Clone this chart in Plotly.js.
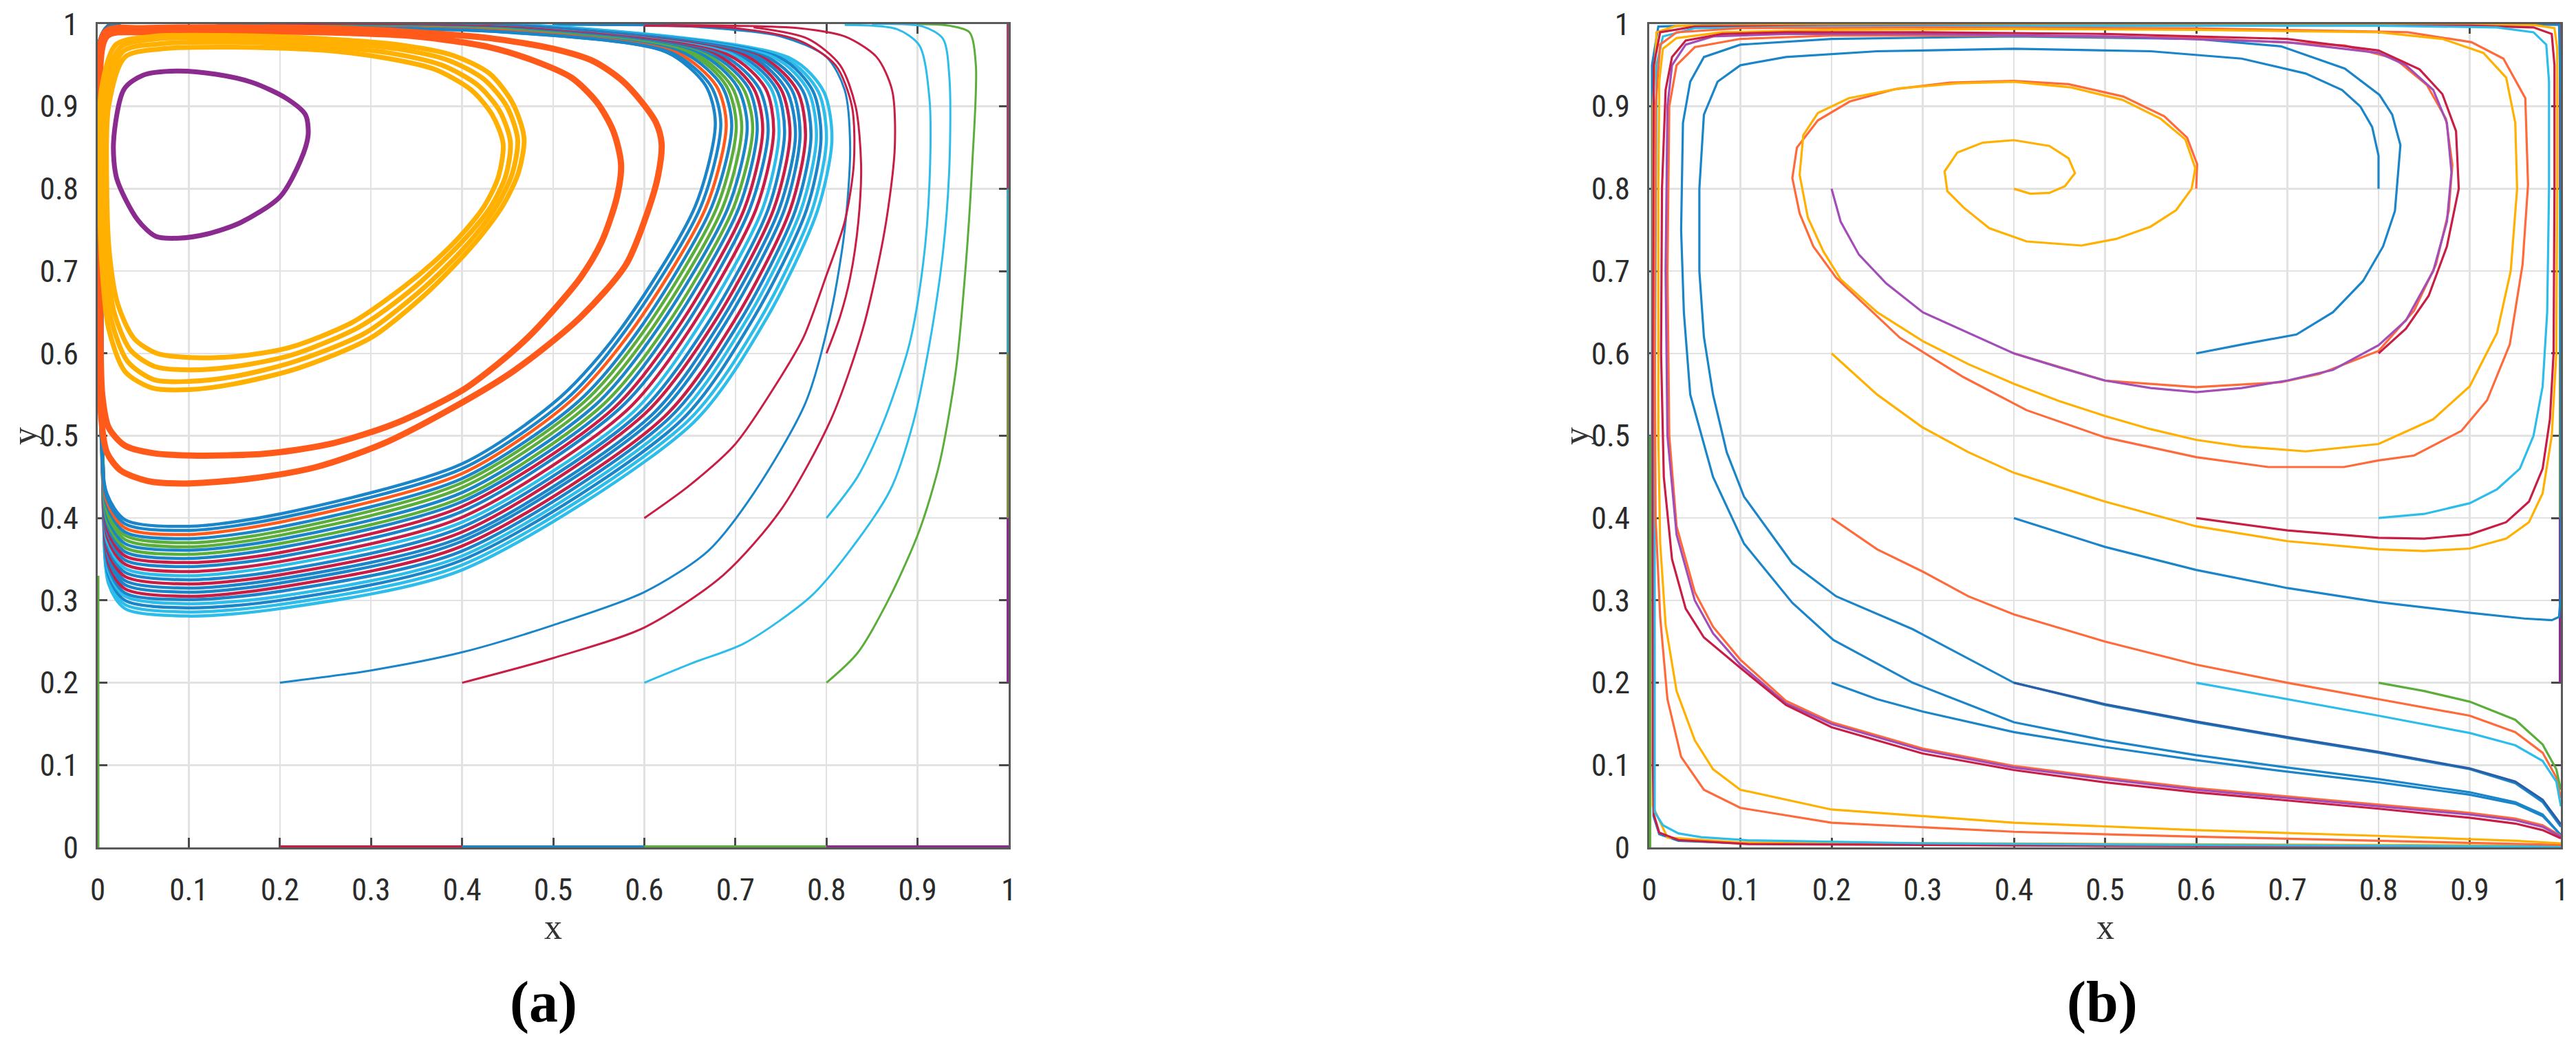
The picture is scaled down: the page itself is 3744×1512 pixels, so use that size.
<!DOCTYPE html>
<html><head><meta charset="utf-8">
<script src="https://cdn.plot.ly/plotly-3.0.1.min.js"></script>
<style>html,body{margin:0;padding:0;background:#fff;} #chart{width:3744px;height:1512px;}</style>
</head><body><div id="chart"></div>
<script>
// ---------- tick labels ----------
const tickVals = [0,0.1,0.2,0.3,0.4,0.5,0.6,0.7,0.8,0.9,1];
const tickText = ['0','0.1','0.2','0.3','0.4','0.5','0.6','0.7','0.8','0.9','1'];

// ---------- panel (a): closed orbits ----------
const a_purple_x = [0.087,0.130,0.170,0.2075,0.228,0.231,0.2226,0.200,0.157,0.12,0.089,0.064,0.044,0.021,0.0174,0.029,0.05,0.087];
const a_purple_y = [0.943,0.939,0.929,0.9095,0.89,0.865,0.834,0.790,0.759,0.745,0.740,0.742,0.762,0.812,0.857,0.921,0.938,0.943];

const a_yel1_x = [0.02,0.06,0.15,0.25,0.33,0.39,0.43,0.455,0.468,0.462,0.445,0.42,0.39,0.356,0.3,0.22,0.15,0.1,0.06,0.03,0.012,0.005,0.002,0.004,0.02];
const a_yel1_y = [0.975,0.985,0.986,0.982,0.975,0.962,0.94,0.905,0.862,0.82,0.78,0.742,0.705,0.668,0.619,0.582,0.563,0.556,0.558,0.578,0.63,0.7,0.8,0.92,0.975];
const a_yel2_x = [0.025,0.065,0.15,0.25,0.328,0.385,0.424,0.449,0.461,0.455,0.438,0.414,0.384,0.35,0.294,0.216,0.15,0.1,0.062,0.033,0.015,0.007,0.004,0.006,0.025];
const a_yel2_y = [0.972,0.982,0.983,0.978,0.97,0.956,0.933,0.9,0.86,0.818,0.779,0.743,0.707,0.672,0.625,0.59,0.572,0.566,0.568,0.59,0.64,0.71,0.8,0.915,0.972];
const a_yel3_x = [0.028,0.068,0.15,0.25,0.325,0.378,0.417,0.441,0.453,0.448,0.432,0.407,0.377,0.343,0.287,0.213,0.15,0.1,0.063,0.036,0.018,0.01,0.007,0.009,0.028];
const a_yel3_y = [0.967,0.976,0.978,0.973,0.964,0.95,0.926,0.895,0.857,0.816,0.779,0.744,0.71,0.676,0.632,0.598,0.584,0.58,0.584,0.604,0.65,0.715,0.8,0.91,0.967];
const a_yel4_x = [0.03,0.07,0.15,0.25,0.32,0.37,0.41,0.433,0.445,0.44,0.425,0.4,0.37,0.335,0.28,0.21,0.15,0.1,0.065,0.04,0.022,0.013,0.01,0.012,0.03];
const a_yel4_y = [0.96,0.97,0.972,0.968,0.958,0.945,0.92,0.89,0.855,0.815,0.78,0.745,0.712,0.68,0.638,0.607,0.596,0.595,0.6,0.618,0.66,0.72,0.8,0.9,0.96];

const a_org1_x = [0.01,0.05,0.15,0.25,0.35,0.43,0.48,0.52,0.548,0.566,0.5745,0.57,0.553,0.53,0.5,0.472,0.44,0.4,0.327,0.255,0.182,0.103,0.06,0.03,0.012,0.005,0.003,0.004,0.01];
const a_org1_y = [0.985,0.99,0.991,0.99,0.985,0.972,0.955,0.935,0.905,0.87,0.83,0.79,0.735,0.692,0.652,0.619,0.588,0.555,0.515,0.49,0.478,0.476,0.479,0.488,0.51,0.55,0.65,0.85,0.985];
const a_org2_x = [0.008,0.05,0.15,0.25,0.35,0.43,0.5,0.544,0.575,0.5975,0.613,0.619,0.615,0.604,0.58,0.53,0.457,0.385,0.3126,0.24,0.168,0.0955,0.055,0.025,0.01,0.004,0.002,0.003,0.008];
const a_org2_y = [0.99,0.995,0.996,0.995,0.99,0.983,0.97,0.955,0.932,0.905,0.88,0.855,0.815,0.773,0.708,0.644,0.579,0.531,0.49,0.462,0.448,0.442,0.445,0.458,0.48,0.52,0.6,0.8,0.99];

// dense band of orbits, k = main lines, h = lines in between (inner -> outer)
const a_k0_x = [0.01,0.2,0.45,0.624,0.667,0.678,0.656,0.573,0.508,0.4,0.2,0.1,0.03,0.01,0.004,0.003,0.01];
const a_k0_y = [0.993,0.996,0.99,0.966,0.926,0.88,0.779,0.628,0.547,0.466,0.405,0.39,0.398,0.43,0.5,0.8,0.993];
const a_h0_x = [0.01,0.2,0.453,0.63,0.673,0.684,0.662,0.58,0.515,0.4,0.2,0.1,0.03,0.01,0.004,0.003,0.01];
const a_h0_y = [0.993,0.996,0.99,0.965,0.925,0.879,0.778,0.629,0.545,0.46,0.4,0.385,0.393,0.425,0.497,0.8,0.993];
const a_k1_x = [0.01,0.2,0.455,0.636,0.679,0.69,0.668,0.587,0.521,0.4,0.2,0.1,0.03,0.01,0.004,0.003,0.01];
const a_k1_y = [0.993,0.996,0.991,0.965,0.925,0.878,0.778,0.629,0.544,0.454,0.395,0.38,0.388,0.42,0.495,0.8,0.993];
const a_h1_x = [0.01,0.2,0.457,0.643,0.685,0.696,0.674,0.595,0.528,0.4,0.2,0.1,0.03,0.01,0.004,0.003,0.01];
const a_h1_y = [0.994,0.997,0.991,0.965,0.925,0.877,0.778,0.63,0.542,0.448,0.389,0.375,0.383,0.415,0.493,0.8,0.994];
const a_k2_x = [0.01,0.2,0.459,0.649,0.69,0.701,0.68,0.602,0.534,0.4,0.2,0.1,0.03,0.01,0.004,0.003,0.01];
const a_k2_y = [0.994,0.997,0.991,0.965,0.925,0.876,0.778,0.631,0.541,0.443,0.384,0.37,0.379,0.41,0.491,0.8,0.994];
const a_h2_x = [0.01,0.2,0.462,0.655,0.696,0.707,0.686,0.609,0.541,0.4,0.2,0.1,0.03,0.011,0.005,0.004,0.01];
const a_h2_y = [0.994,0.997,0.992,0.964,0.924,0.875,0.777,0.631,0.54,0.437,0.379,0.365,0.374,0.405,0.488,0.8,0.994];
const a_k3_x = [0.01,0.2,0.464,0.661,0.702,0.713,0.692,0.616,0.547,0.4,0.2,0.1,0.03,0.011,0.005,0.004,0.01];
const a_k3_y = [0.994,0.997,0.992,0.964,0.924,0.875,0.777,0.632,0.538,0.431,0.374,0.361,0.369,0.4,0.486,0.8,0.994];
const a_h3_x = [0.01,0.2,0.466,0.667,0.708,0.719,0.698,0.624,0.554,0.4,0.2,0.1,0.03,0.011,0.005,0.004,0.01];
const a_h3_y = [0.994,0.997,0.992,0.963,0.923,0.874,0.777,0.633,0.537,0.425,0.369,0.356,0.364,0.395,0.484,0.8,0.994];
const a_k4_x = [0.01,0.2,0.468,0.673,0.714,0.724,0.704,0.631,0.56,0.4,0.2,0.1,0.03,0.011,0.005,0.004,0.01];
const a_k4_y = [0.994,0.997,0.993,0.963,0.923,0.873,0.777,0.634,0.535,0.42,0.364,0.351,0.359,0.39,0.482,0.8,0.994];
const a_h4_x = [0.01,0.2,0.471,0.68,0.72,0.73,0.71,0.639,0.567,0.4,0.2,0.1,0.03,0.011,0.005,0.004,0.01];
const a_h4_y = [0.995,0.997,0.993,0.962,0.922,0.872,0.776,0.635,0.534,0.414,0.358,0.346,0.354,0.385,0.48,0.8,0.995];
const a_k5_x = [0.01,0.2,0.473,0.686,0.726,0.736,0.716,0.646,0.573,0.4,0.2,0.1,0.03,0.011,0.005,0.004,0.01];
const a_k5_y = [0.995,0.997,0.993,0.962,0.922,0.871,0.776,0.635,0.533,0.408,0.353,0.341,0.349,0.38,0.477,0.8,0.995];
const a_h5_x = [0.01,0.2,0.476,0.693,0.733,0.742,0.723,0.654,0.581,0.4,0.2,0.1,0.03,0.011,0.005,0.004,0.01];
const a_h5_y = [0.995,0.998,0.994,0.962,0.922,0.87,0.776,0.636,0.531,0.401,0.347,0.335,0.344,0.375,0.475,0.8,0.995];
const a_k6_x = [0.01,0.2,0.478,0.699,0.739,0.748,0.73,0.662,0.588,0.4,0.2,0.1,0.03,0.011,0.005,0.004,0.01];
const a_k6_y = [0.995,0.998,0.994,0.962,0.922,0.869,0.776,0.637,0.529,0.395,0.342,0.33,0.339,0.37,0.472,0.8,0.995];
const a_h6_x = [0.01,0.2,0.48,0.706,0.745,0.754,0.736,0.67,0.595,0.4,0.2,0.1,0.03,0.011,0.005,0.004,0.01];
const a_h6_y = [0.995,0.998,0.994,0.961,0.921,0.868,0.775,0.637,0.528,0.389,0.336,0.325,0.334,0.365,0.47,0.8,0.995];
const a_k7_x = [0.01,0.2,0.482,0.712,0.75,0.76,0.742,0.677,0.601,0.4,0.2,0.1,0.03,0.011,0.005,0.004,0.01];
const a_k7_y = [0.995,0.998,0.994,0.961,0.921,0.867,0.775,0.638,0.527,0.383,0.331,0.32,0.329,0.36,0.468,0.8,0.995];
const a_h7_x = [0.01,0.2,0.485,0.718,0.756,0.766,0.748,0.684,0.608,0.4,0.2,0.1,0.03,0.012,0.006,0.005,0.01];
const a_h7_y = [0.996,0.998,0.995,0.96,0.92,0.866,0.775,0.639,0.525,0.377,0.326,0.315,0.324,0.355,0.465,0.8,0.996];
const a_k8_x = [0.01,0.2,0.487,0.724,0.762,0.771,0.754,0.691,0.614,0.4,0.2,0.1,0.03,0.012,0.006,0.005,0.01];
const a_k8_y = [0.996,0.998,0.995,0.96,0.92,0.865,0.775,0.64,0.524,0.372,0.321,0.31,0.319,0.35,0.463,0.8,0.996];
const a_h8_x = [0.01,0.2,0.489,0.73,0.768,0.777,0.76,0.699,0.621,0.4,0.2,0.1,0.03,0.012,0.006,0.005,0.01];
const a_h8_y = [0.996,0.999,0.995,0.959,0.919,0.864,0.774,0.64,0.522,0.366,0.316,0.305,0.314,0.345,0.461,0.8,0.996];
const a_k9_x = [0.01,0.2,0.491,0.736,0.774,0.783,0.766,0.706,0.627,0.4,0.2,0.1,0.03,0.012,0.006,0.005,0.01];
const a_k9_y = [0.996,0.999,0.996,0.959,0.919,0.864,0.774,0.641,0.521,0.36,0.311,0.301,0.309,0.34,0.459,0.8,0.996];
const a_h9_x = [0.01,0.2,0.494,0.743,0.78,0.789,0.772,0.713,0.634,0.4,0.2,0.1,0.03,0.012,0.006,0.005,0.01];
const a_h9_y = [0.997,0.999,0.996,0.959,0.919,0.863,0.774,0.642,0.52,0.354,0.305,0.296,0.305,0.335,0.456,0.8,0.997];
const a_k10_x = [0.01,0.2,0.496,0.749,0.785,0.794,0.778,0.72,0.64,0.4,0.2,0.1,0.03,0.012,0.006,0.005,0.01];
const a_k10_y = [0.997,0.999,0.996,0.959,0.919,0.862,0.774,0.643,0.518,0.349,0.3,0.291,0.3,0.33,0.454,0.8,0.997];
const a_h10_x = [0.01,0.2,0.498,0.755,0.791,0.8,0.784,0.728,0.647,0.4,0.2,0.1,0.03,0.012,0.006,0.005,0.01];
const a_h10_y = [0.997,0.999,0.997,0.958,0.918,0.861,0.773,0.643,0.517,0.343,0.295,0.286,0.295,0.325,0.452,0.8,0.997];
const a_k11_x = [0.01,0.2,0.5,0.761,0.797,0.806,0.79,0.735,0.653,0.4,0.2,0.1,0.03,0.012,0.006,0.005,0.01];
const a_k11_y = [0.997,0.999,0.997,0.958,0.918,0.86,0.773,0.644,0.515,0.337,0.29,0.281,0.29,0.32,0.45,0.8,0.997];

// open trajectories in (a)
const a_b22_x = [0.2,0.3,0.4,0.5,0.6,0.67,0.72,0.777,0.805,0.82,0.826,0.82,0.8,0.75,0.65,0.5];
const a_b22_y = [0.2,0.215,0.237,0.27,0.31,0.36,0.43,0.54,0.65,0.75,0.85,0.92,0.96,0.985,0.997,0.999];
const a_r42_x = [0.4,0.5,0.6,0.687,0.75,0.805,0.84,0.864,0.875,0.872,0.855,0.82,0.77,0.7,0.55];
const a_r42_y = [0.2,0.23,0.267,0.331,0.41,0.52,0.63,0.75,0.85,0.92,0.96,0.985,0.995,0.998,0.999];
const a_c62_x = [0.6,0.653,0.71,0.783,0.826,0.87,0.895,0.913,0.928,0.935,0.935,0.928,0.906,0.85];
const a_c62_y = [0.2,0.224,0.248,0.305,0.361,0.434,0.515,0.611,0.724,0.829,0.934,0.982,0.997,1.0];
const a_g82_x = [0.8,0.834,0.87,0.902,0.924,0.942,0.953,0.96,0.964,0.957,0.935,0.9];
const a_g82_y = [0.2,0.236,0.305,0.385,0.466,0.579,0.708,0.829,0.95,0.99,0.998,1.0];
const a_r64_x = [0.6,0.65,0.7,0.749,0.775,0.8,0.82,0.83,0.828,0.81,0.77,0.7,0.6];
const a_r64_y = [0.4,0.44,0.49,0.57,0.62,0.695,0.76,0.83,0.9,0.95,0.98,0.995,0.998];
const a_c84_x = [0.8,0.834,0.862,0.891,0.906,0.913,0.913,0.902,0.877,0.82];
const a_c84_y = [0.4,0.45,0.515,0.611,0.708,0.805,0.91,0.974,0.994,0.999];
const a_r86_x = [0.8,0.815,0.826,0.835,0.838,0.832,0.815,0.78,0.72];
const a_r86_y = [0.6,0.645,0.692,0.76,0.83,0.9,0.95,0.982,0.996];

// boundary trajectories in (a)
const a_bot_red_x = [0.2,0.4], a_bot_red_y = [0,0];
const a_bot_blue_x = [0.4,0.6], a_bot_blue_y = [0,0];
const a_bot_green_x = [0.6,0.8], a_bot_green_y = [0,0];
const a_bot_purple_x = [0.8,1], a_bot_purple_y = [0,0];
const a_left_green_x = [0,0], a_left_green_y = [0,0.33];
const a_right1_x = [1,1], a_right1_y = [0.2,0.4];
const a_right2_x = [1,1], a_right2_y = [0.4,0.6];
const a_right3_x = [1,1], a_right3_y = [0.6,0.8];
const a_right4_x = [1,1], a_right4_y = [0.8,1];

// ---------- panel (b) ----------
const b_ysp_x = [0.4,0.418,0.439,0.456,0.467,0.46,0.439,0.4,0.366,0.338,0.324,0.327,0.345,0.373,0.414,0.474,0.512,0.55,0.578,0.595,0.599,0.588,0.561,0.519,0.463,0.4,0.338,0.275,0.219,0.185,0.169,0.165,0.174,0.191,0.21,0.25,0.3,0.35,0.4,0.45,0.5,0.55,0.6,0.65,0.72,0.8,0.86,0.9,0.93,0.945,0.952,0.95,0.94,0.915,0.87,0.8,0.6,0.4,0.2,0.08,0.03,0.015,0.011,0.01,0.01,0.012,0.018,0.03,0.05,0.07,0.1,0.2,0.4,0.6,0.8,0.95,1.0];
const b_ysp_y = [0.8,0.794,0.795,0.803,0.819,0.837,0.852,0.859,0.856,0.844,0.821,0.797,0.777,0.752,0.736,0.731,0.739,0.754,0.774,0.8,0.825,0.86,0.885,0.908,0.923,0.93,0.928,0.922,0.91,0.892,0.865,0.817,0.765,0.724,0.69,0.65,0.615,0.587,0.563,0.542,0.524,0.508,0.495,0.487,0.481,0.49,0.52,0.56,0.625,0.7,0.8,0.88,0.935,0.965,0.982,0.99,0.993,0.994,0.993,0.99,0.983,0.97,0.93,0.8,0.5,0.37,0.27,0.19,0.13,0.095,0.07,0.046,0.03,0.021,0.014,0.008,0.005];
const b_osp_x = [0.6,0.601,0.59,0.565,0.52,0.46,0.4,0.33,0.27,0.22,0.185,0.162,0.157,0.165,0.18,0.205,0.275,0.345,0.414,0.5,0.6,0.679,0.762,0.8,0.839,0.891,0.919,0.944,0.958,0.964,0.961,0.937,0.902,0.832,0.6,0.3,0.1,0.03,0.012,0.007,0.006,0.007,0.012,0.02,0.035,0.06,0.1,0.2,0.4,0.6,0.8,1.0];
const b_osp_y = [0.8,0.83,0.862,0.888,0.912,0.927,0.931,0.929,0.921,0.906,0.883,0.85,0.813,0.77,0.73,0.692,0.619,0.571,0.531,0.498,0.474,0.462,0.462,0.47,0.476,0.506,0.543,0.611,0.708,0.805,0.91,0.958,0.978,0.99,0.995,0.996,0.995,0.99,0.975,0.9,0.6,0.4,0.28,0.18,0.11,0.07,0.048,0.03,0.019,0.013,0.008,0.003];
const b_p28_x = [0.2,0.21,0.23,0.26,0.3,0.35,0.4,0.45,0.5,0.55,0.6,0.65,0.7,0.75,0.8,0.83,0.86,0.875,0.88,0.875,0.86,0.83,0.8,0.7,0.5,0.3,0.15,0.07,0.04,0.025,0.02,0.018,0.02,0.03,0.05,0.07,0.1,0.15,0.2,0.3,0.4,0.5,0.6,0.7,0.8,0.9,0.95,0.98,1.0];
const b_p28_y = [0.8,0.76,0.72,0.685,0.65,0.625,0.6,0.583,0.567,0.558,0.553,0.558,0.567,0.58,0.61,0.64,0.7,0.76,0.82,0.88,0.92,0.95,0.965,0.978,0.985,0.988,0.988,0.985,0.975,0.95,0.9,0.7,0.5,0.38,0.3,0.26,0.222,0.175,0.15,0.118,0.097,0.083,0.07,0.06,0.05,0.04,0.033,0.025,0.013];
const b_o46_x = [0.4,0.5,0.6,0.693,0.735,0.8,0.839,0.863,0.877,0.881,0.874,0.853,0.818,0.763,0.6,0.4,0.2,0.1,0.05,0.03,0.022,0.02,0.022,0.03,0.05,0.07,0.1,0.15,0.2,0.3,0.4,0.5,0.6,0.7,0.8,0.9,0.95,0.98,1.0];
const b_o46_y = [0.6,0.567,0.559,0.565,0.575,0.603,0.652,0.708,0.773,0.829,0.885,0.926,0.958,0.974,0.983,0.986,0.986,0.982,0.972,0.95,0.9,0.7,0.5,0.39,0.31,0.268,0.228,0.178,0.152,0.12,0.099,0.085,0.072,0.062,0.052,0.042,0.035,0.027,0.014];
const b_r86_x = [0.8,0.83,0.855,0.875,0.888,0.885,0.87,0.845,0.8,0.7,0.5,0.3,0.15,0.08,0.04,0.025,0.018,0.014,0.013,0.016,0.025,0.04,0.06,0.1,0.15,0.2,0.3,0.4,0.5,0.6,0.7,0.8,0.9,0.95,0.98,1.0];
const b_r86_y = [0.6,0.63,0.67,0.73,0.8,0.87,0.915,0.945,0.968,0.982,0.988,0.99,0.99,0.988,0.98,0.96,0.92,0.8,0.6,0.45,0.35,0.29,0.255,0.218,0.173,0.146,0.114,0.094,0.079,0.067,0.057,0.047,0.036,0.029,0.021,0.011];
const b_b66_x = [0.6,0.651,0.71,0.75,0.783,0.805,0.818,0.824,0.815,0.801,0.763,0.693,0.6,0.4,0.2,0.1,0.06,0.045,0.037,0.035,0.038,0.045,0.07,0.104,0.157,0.202,0.289,0.4,0.5,0.6,0.7,0.8,0.9,0.95,0.98,1.0];
const b_b66_y = [0.6,0.611,0.623,0.65,0.688,0.73,0.773,0.853,0.89,0.914,0.946,0.973,0.982,0.985,0.982,0.975,0.96,0.93,0.88,0.75,0.65,0.55,0.45,0.369,0.297,0.252,0.2,0.152,0.13,0.112,0.097,0.083,0.067,0.055,0.04,0.015];
const b_b88_x = [0.8,0.8,0.793,0.78,0.76,0.72,0.65,0.55,0.4,0.25,0.15,0.1,0.075,0.06,0.055,0.055,0.06,0.07,0.085,0.104,0.157,0.205,0.289,0.4,0.5,0.6,0.7,0.8,0.9,0.95,0.98,1.0];
const b_b88_y = [0.8,0.84,0.875,0.9,0.92,0.94,0.958,0.967,0.97,0.967,0.96,0.95,0.93,0.89,0.8,0.7,0.62,0.55,0.48,0.426,0.345,0.305,0.265,0.2,0.173,0.152,0.133,0.115,0.095,0.078,0.055,0.025];
const b_b22_x = [0.2,0.25,0.3,0.4,0.5,0.6,0.7,0.8,0.9,0.95,0.98,1.0];
const b_b22_y = [0.2,0.18,0.165,0.14,0.122,0.106,0.092,0.079,0.064,0.053,0.038,0.015];
const b_n42_x = [0.4,0.5,0.6,0.7,0.8,0.9,0.95,0.98,1.0];
const b_n42_y = [0.2,0.174,0.153,0.134,0.116,0.096,0.08,0.058,0.028];
const b_c62_x = [0.6,0.7,0.8,0.9,0.95,0.98,0.995,1.0];
const b_c62_y = [0.2,0.18,0.16,0.139,0.124,0.105,0.08,0.05];
const b_g82_x = [0.8,0.85,0.9,0.95,0.98,0.995,1.0];
const b_g82_y = [0.2,0.19,0.177,0.155,0.125,0.095,0.07];
const b_o24_x = [0.2,0.25,0.3,0.35,0.4,0.5,0.6,0.7,0.8,0.9,0.95,0.98,0.995,1.0];
const b_o24_y = [0.4,0.362,0.335,0.305,0.283,0.25,0.222,0.2,0.18,0.16,0.14,0.115,0.085,0.06];
const b_b44_x = [0.4,0.5,0.6,0.7,0.8,0.9,0.96,0.99,0.998,1.0,1.0,0.998,0.9,0.5,0.1,0.01,0.003,0.003,0.0047,0.011,0.032,0.108,0.5,1.0];
const b_b44_y = [0.4,0.365,0.337,0.315,0.298,0.285,0.278,0.276,0.28,0.31,0.9,0.999,1.0,1.0,1.0,0.997,0.95,0.5,0.038,0.016,0.008,0.0047,0.002,0.001];
const b_r64_x = [0.6,0.7,0.8,0.85,0.9,0.94,0.965,0.98,0.988,0.992,0.993,0.993,0.99,0.97,0.9,0.6,0.3,0.05,0.012,0.005,0.004,0.004,0.005,0.011,0.032,0.108,0.5,1.0];
const b_r64_y = [0.4,0.385,0.376,0.375,0.38,0.395,0.42,0.46,0.52,0.6,0.8,0.95,0.988,0.996,0.998,0.998,0.998,0.997,0.99,0.95,0.5,0.1,0.04,0.018,0.009,0.004,0.002,0.001];
const b_c84_x = [0.8,0.85,0.9,0.93,0.955,0.97,0.98,0.985,0.987,0.987,0.984,0.97,0.93,0.8,0.5,0.2,0.05,0.015,0.008,0.006,0.006,0.015,0.032,0.057,0.108,0.3,0.6,1.0];
const b_c84_y = [0.4,0.405,0.418,0.435,0.46,0.5,0.56,0.65,0.8,0.93,0.975,0.99,0.996,0.998,0.998,0.997,0.995,0.985,0.95,0.5,0.043,0.027,0.017,0.0125,0.0086,0.005,0.003,0.001];
const b_y26_x = [0.2,0.25,0.3,0.35,0.4,0.5,0.6,0.7,0.8,0.85,0.9,0.94,0.965,0.98,0.99,0.995,0.996,0.996,0.993,0.97,0.8,0.5,0.2,0.03,0.008,0.004,0.004,0.02,0.1,1.0];
const b_y26_y = [0.6,0.55,0.51,0.48,0.455,0.42,0.39,0.372,0.362,0.36,0.363,0.375,0.395,0.43,0.5,0.6,0.8,0.97,0.995,0.999,0.999,0.999,0.999,0.998,0.99,0.9,0.05,0.012,0.006,0.002];
const b_left_green_x = [0,0], b_left_green_y = [0,0.5];
const b_right1_x = [1,1], b_right1_y = [0.2,0.4];
const b_right2_x = [1,1], b_right2_y = [0.4,0.6];
const b_right3_x = [1,1], b_right3_y = [0.6,0.8];
const b_right4_x = [1,1], b_right4_y = [0.8,1];

// ---------- styling ----------
const C = {
  blue:'#1A85C8', orange:'#FF5A1A', yellow:'#FFB000', purple:'#8B2A8F', green:'#5CAE3C',
  cyan:'#2DBDEB', red:'#C81E45', navy:'#2A5FA8', orangeB:'#FF6A3A', purpleB:'#A24DB8',
  olive:'#7F9140', teal:'#3FA3B5', mauve:'#A0456A'
};

const traces = [];
function add(x, y, color, width, ax, shape) {
  traces.push({
    type:'scatter', mode:'lines', x:x, y:y,
    xaxis: ax === 1 ? 'x' : 'x2', yaxis: ax === 1 ? 'y' : 'y2',
    line:{color:color, width:width, shape:shape || 'linear', smoothing:0.8},
    hoverinfo:'skip', showlegend:false
  });
}

// panel (a)
add(a_left_green_x, a_left_green_y, C.green, 5, 1);
add(a_bot_red_x, a_bot_red_y, C.red, 6, 1);
add(a_bot_blue_x, a_bot_blue_y, C.blue, 6, 1);
add(a_bot_green_x, a_bot_green_y, C.green, 6, 1);
add(a_bot_purple_x, a_bot_purple_y, C.purple, 6, 1);
add(a_right1_x, a_right1_y, C.purple, 6, 1);
add(a_right2_x, a_right2_y, C.olive, 6, 1);
add(a_right3_x, a_right3_y, C.teal, 6, 1);
add(a_right4_x, a_right4_y, C.mauve, 6, 1);

add(a_g82_x, a_g82_y, C.green, 3, 1, 'spline');
add(a_c62_x, a_c62_y, C.cyan, 3, 1, 'spline');
add(a_c84_x, a_c84_y, C.cyan, 3, 1, 'spline');
add(a_r42_x, a_r42_y, C.red, 3, 1, 'spline');
add(a_b22_x, a_b22_y, C.blue, 3, 1, 'spline');
add(a_r86_x, a_r86_y, C.red, 3, 1, 'spline');
add(a_r64_x, a_r64_y, C.red, 3, 1, 'spline');

// band: outer -> inner
const bandX = [a_k11_x,a_h10_x,a_k10_x,a_h9_x,a_k9_x,a_h8_x,a_k8_x,a_h7_x,a_k7_x,a_h6_x,a_k6_x,a_h5_x,a_k5_x,a_h4_x,a_k4_x,a_h3_x,a_k3_x,a_h2_x,a_k2_x,a_h1_x,a_k1_x,a_h0_x,a_k0_x];
const bandY = [a_k11_y,a_h10_y,a_k10_y,a_h9_y,a_k9_y,a_h8_y,a_k8_y,a_h7_y,a_k7_y,a_h6_y,a_k6_y,a_h5_y,a_k5_y,a_h4_y,a_k4_y,a_h3_y,a_k3_y,a_h2_y,a_k2_y,a_h1_y,a_k1_y,a_h0_y,a_k0_y];
const bandC = [C.cyan,C.cyan,C.blue,C.cyan,C.blue,C.red,C.blue,C.blue,C.red,C.blue,C.cyan,C.red,C.blue,C.red,C.blue,C.green,C.blue,C.green,C.green,C.blue,C.orange,C.blue,C.blue];
bandX.forEach((bx,i)=>add(bx, bandY[i], bandC[i], 4.5, 1, 'spline'));

add(a_org2_x, a_org2_y, C.orange, 9, 1, 'spline');
add(a_org1_x, a_org1_y, C.orange, 9, 1, 'spline');
add(a_yel1_x, a_yel1_y, C.yellow, 7, 1, 'spline');
add(a_yel2_x, a_yel2_y, C.yellow, 7, 1, 'spline');
add(a_yel3_x, a_yel3_y, C.yellow, 7, 1, 'spline');
add(a_yel4_x, a_yel4_y, C.yellow, 7, 1, 'spline');
add(a_purple_x, a_purple_y, C.purple, 7, 1, 'spline');

// panel (b)
const BW = 3.2;
add(b_left_green_x, b_left_green_y, C.green, 6, 2);
add(b_right1_x, b_right1_y, C.purple, 6, 2);
add(b_right2_x, b_right2_y, C.olive, 6, 2);
add(b_right3_x, b_right3_y, C.teal, 6, 2);
add(b_right4_x, b_right4_y, C.mauve, 6, 2);
add(b_b44_x, b_b44_y, C.blue, BW, 2);
add(b_y26_x, b_y26_y, C.yellow, BW, 2);
add(b_r64_x, b_r64_y, C.red, BW, 2);
add(b_c84_x, b_c84_y, C.cyan, BW, 2);
add(b_osp_x, b_osp_y, C.orangeB, BW, 2);
add(b_ysp_x, b_ysp_y, C.yellow, BW, 2);
add(b_o24_x, b_o24_y, C.orangeB, BW, 2);
add(b_g82_x, b_g82_y, C.green, BW, 2);
add(b_c62_x, b_c62_y, C.cyan, BW, 2);
add(b_b22_x, b_b22_y, C.blue, BW, 2);
add(b_b66_x, b_b66_y, C.blue, BW, 2);
add(b_b88_x, b_b88_y, C.blue, BW, 2);
add(b_n42_x, b_n42_y, C.navy, BW, 2);
add(b_o46_x, b_o46_y, C.orangeB, BW, 2);
add(b_p28_x, b_p28_y, C.purpleB, BW, 2);
add(b_r86_x, b_r86_y, C.red, BW, 2);

function axis(domain, anchor, isY) {
  return {
    domain: domain, anchor: anchor, range:[0,1],
    tickmode:'array', tickvals: tickVals, ticktext: tickText,
    ticks:'inside', ticklen:14, tickwidth:3, tickcolor:'#4a4a4a',
    showline:true, linecolor:'#5a5a5a', linewidth:3, mirror:'ticks',
    showgrid:true, gridcolor:'#e2e2e2', gridwidth:2.5, zeroline:false,
    tickfont:{family:'"Liberation Sans Narrow", "Roboto Condensed", "Liberation Sans", Arial, sans-serif', size:45, color:'#2b2b2b'},
    ticklabelstandoff: isY ? 16 : 20,
    layer:'below traces', fixedrange:true
  };
}

const yDom = [1 - 1232/1512, 1 - 35/1512];
const serif = '"Liberation Serif", "Times New Roman", serif';
const layout = {
  width:3744, height:1512, margin:{l:0,r:0,t:0,b:0},
  paper_bgcolor:'#ffffff', plot_bgcolor:'#ffffff', showlegend:false,
  xaxis: axis([142/3744, 1466/3744], 'y', false),
  yaxis: axis(yDom, 'x', true),
  xaxis2: axis([2397/3744, 3722/3744], 'y2', false),
  yaxis2: axis(yDom, 'x2', true),
  annotations: [
    {text:'x', xref:'paper', yref:'paper', x:804/3744, y:1-1347/1512, showarrow:false, xanchor:'center', yanchor:'middle', font:{family:serif, size:52, color:'#333'}},
    {text:'y', xref:'paper', yref:'paper', x:35/3744, y:1-634/1512, showarrow:false, textangle:-90, xanchor:'center', yanchor:'middle', font:{family:serif, size:52, color:'#333'}},
    {text:'<b>(a)</b>', xref:'paper', yref:'paper', x:790/3744, y:1-1457/1512, showarrow:false, xanchor:'center', yanchor:'middle', font:{family:serif, size:84, color:'#000'}},
    {text:'x', xref:'paper', yref:'paper', x:3060/3744, y:1-1347/1512, showarrow:false, xanchor:'center', yanchor:'middle', font:{family:serif, size:52, color:'#333'}},
    {text:'y', xref:'paper', yref:'paper', x:2290/3744, y:1-634/1512, showarrow:false, textangle:-90, xanchor:'center', yanchor:'middle', font:{family:serif, size:52, color:'#333'}},
    {text:'<b>(b)</b>', xref:'paper', yref:'paper', x:3055/3744, y:1-1457/1512, showarrow:false, xanchor:'center', yanchor:'middle', font:{family:serif, size:84, color:'#000'}}
  ]
};

Plotly.newPlot('chart', traces, layout, {staticPlot:true, displayModeBar:false});
</script></body></html>
